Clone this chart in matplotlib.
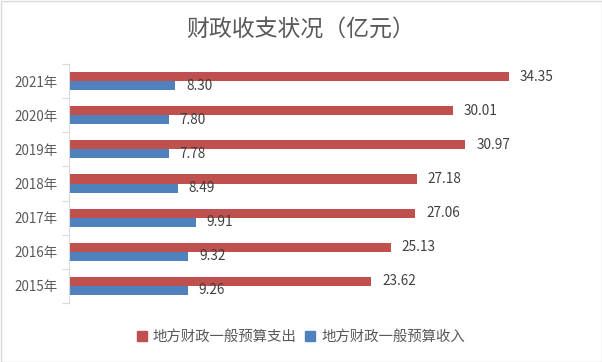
import matplotlib
matplotlib.use("Agg")
import matplotlib.pyplot as plt
from matplotlib.patches import Rectangle
from matplotlib.transforms import offset_copy

plt.rcParams['font.family'] = ['Noto Sans CJK SC', 'DejaVu Sans']

years = ["2015年", "2016年", "2017年", "2018年", "2019年", "2020年", "2021年"]
expenditure = [23.62, 25.13, 27.06, 27.18, 30.97, 30.01, 34.35]
revenue = [9.26, 9.32, 9.91, 8.49, 7.78, 7.80, 8.30]
series_names = ["地方财政一般预算支出", "地方财政一般预算收入"]
title = "财政收支状况（亿元）"

red = "#C0504D"
blue = "#4F81BD"
text_c = "#595959"

fig = plt.figure(figsize=(6.02, 3.62), dpi=100)
ax = fig.add_axes([69/602, 1-303/362, (581-69)/602, (303-64)/362])

h = 0.265
ys = list(range(len(years)))
ax.barh([y + h/2 for y in ys], expenditure, height=h, color=red)
ax.barh([y - h/2 for y in ys], revenue, height=h, color=blue)

ax.set_xlim(0, 40)
ax.set_ylim(-0.5, len(years) - 0.5)

off = offset_copy(ax.transData, fig=fig, x=11, y=0, units='dots')
for y, v in zip(ys, expenditure):
    ax.text(v, y + h/2, f"{v:.2f}", transform=off, va='center', ha='left',
            fontsize=9.8, color="#404040")
for y, v in zip(ys, revenue):
    ax.text(v, y - h/2, f"{v:.2f}", transform=off, va='center', ha='left',
            fontsize=9.8, color="#404040")

ax.set_yticks(ys)
ax.set_yticklabels(years, fontsize=9.7, color=text_c)
ax.set_yticks([y - 0.5 for y in range(len(years) + 1)], minor=True)
ax.tick_params(axis='y', which='major', length=0, pad=8)
ax.tick_params(axis='y', which='minor', length=5, color="#D9D9D9", width=0.8)
ax.set_xticks([])
for s in ['top', 'right', 'bottom']:
    ax.spines[s].set_visible(False)
ax.spines['left'].set_color("#D9D9D9")
ax.spines['left'].set_linewidth(0.8)

fig.text(0.5, 1-29/362, title, ha='center', va='center', fontsize=16.5, color=text_c)

handles = [Rectangle((0, 0), 1, 1, color=red), Rectangle((0, 0), 1, 1, color=blue)]
fig.legend(handles, series_names, loc='center', bbox_to_anchor=(0.5, 1-337/362),
           ncol=2, frameon=False, fontsize=10.4, labelcolor=text_c,
           handlelength=0.7, handleheight=0.7, handletextpad=0.4, columnspacing=0.6)

border = Rectangle((0.5/602, 0.5/362), 1-1/602, 1-1/362, transform=fig.transFigure,
                   fill=False, edgecolor="#D9D9D9", linewidth=1)
fig.patches.append(border)

fig.savefig("out.png", dpi=100)
